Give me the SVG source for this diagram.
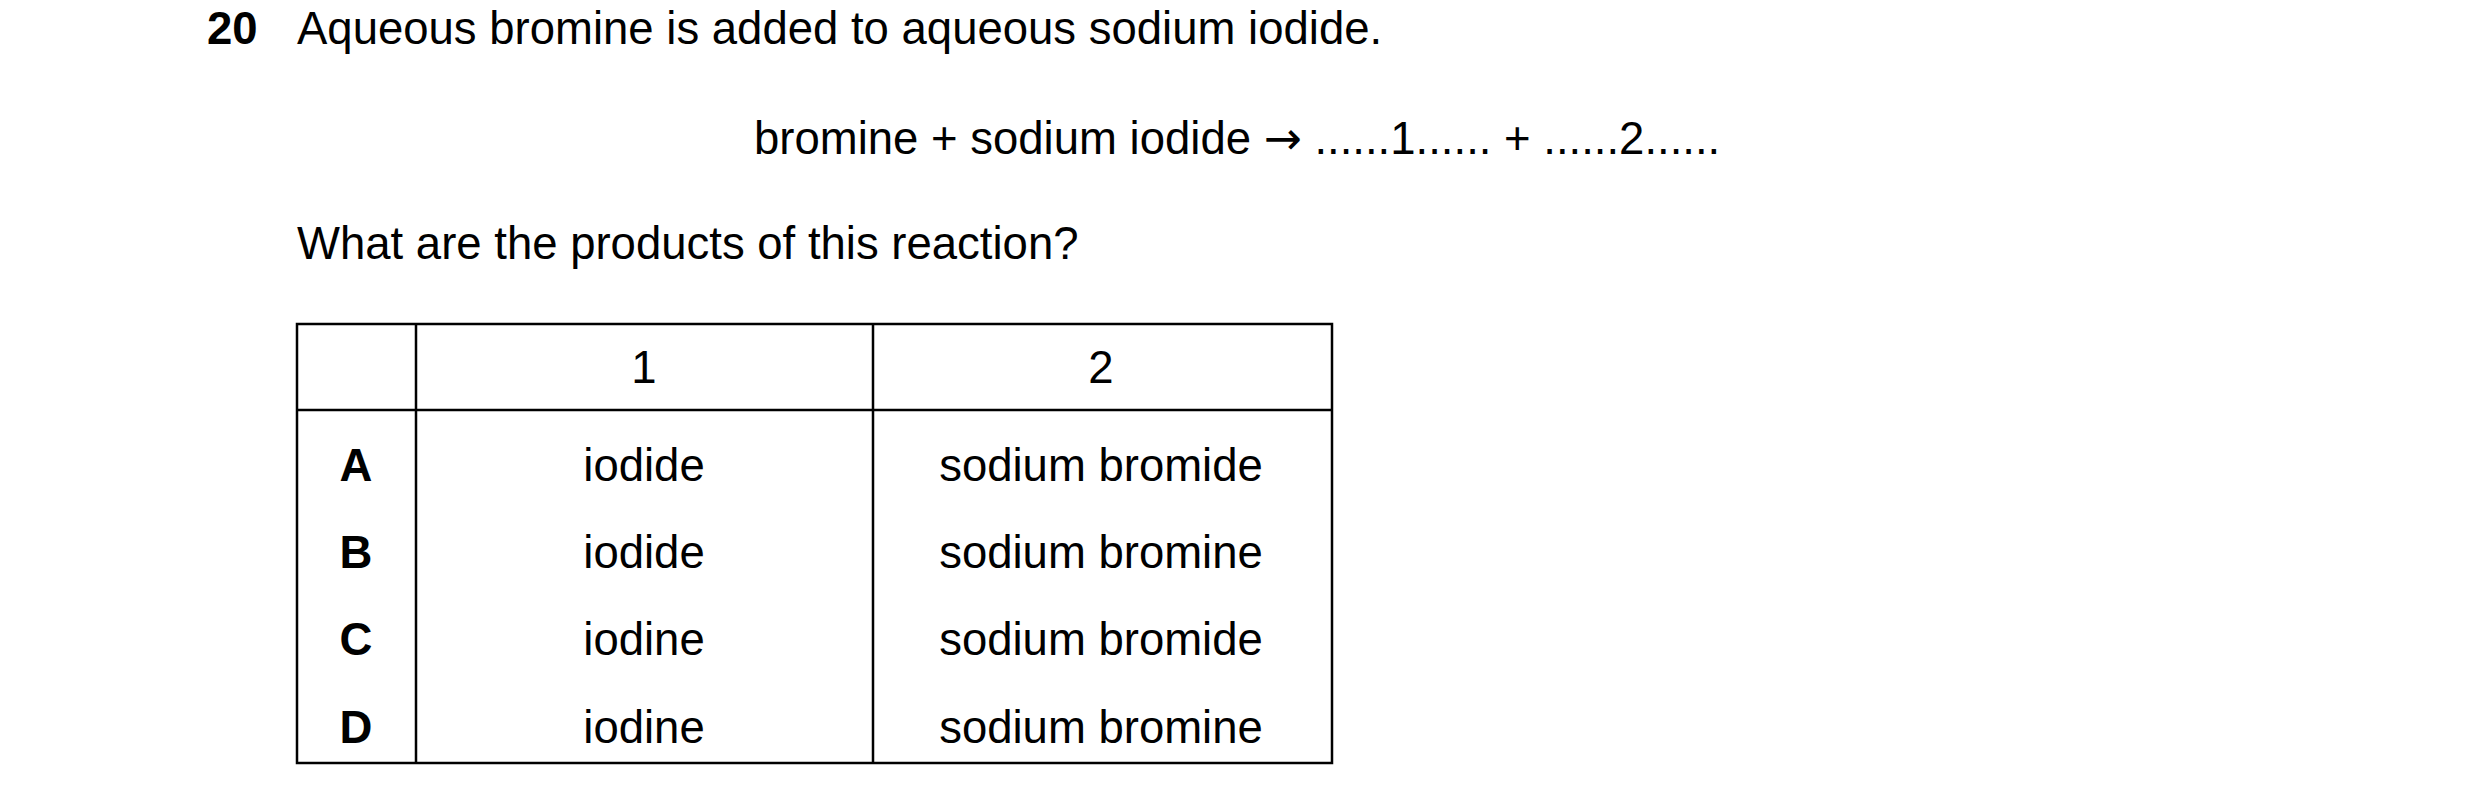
<svg xmlns="http://www.w3.org/2000/svg" width="2480" height="801" viewBox="0 0 2480 801">
<style>
text{font-family:"Liberation Sans",Arial,sans-serif;font-size:45.5px;fill:#000}
.b{font-weight:bold}
.c{text-anchor:middle}
.t line,.t rect{stroke:#000;stroke-width:2.5;fill:none}
.ar{font-family:"DejaVu Sans",sans-serif}
</style>
<rect width="2480" height="801" fill="#fff"/>
<text class="b" x="207" y="44">20</text>
<text x="297" y="44">Aqueous bromine is added to aqueous sodium iodide.</text>
<text x="754" y="154">bromine + sodium iodide <tspan class="ar">→</tspan> ......1...... + ......2......</text>
<text x="297" y="259">What are the products of this reaction?</text>
<g id="table" class="t">
<rect x="297" y="324" width="1035" height="439"/>
<line x1="297" y1="410" x2="1332" y2="410"/>
<line x1="416" y1="324" x2="416" y2="763"/>
<line x1="873" y1="324" x2="873" y2="763"/>
<text class="c" x="644" y="383">1</text>
<text class="c" x="1101" y="383">2</text>
<text class="b c" x="356" y="481">A</text>
<text class="b c" x="356" y="568">B</text>
<text class="b c" x="356" y="655">C</text>
<text class="b c" x="356" y="743">D</text>
<text class="c" x="644" y="481">iodide</text>
<text class="c" x="644" y="568">iodide</text>
<text class="c" x="644" y="655">iodine</text>
<text class="c" x="644" y="743">iodine</text>
<text class="c" x="1101" y="481">sodium bromide</text>
<text class="c" x="1101" y="568">sodium bromine</text>
<text class="c" x="1101" y="655">sodium bromide</text>
<text class="c" x="1101" y="743">sodium bromine</text>
</g>
</svg>
